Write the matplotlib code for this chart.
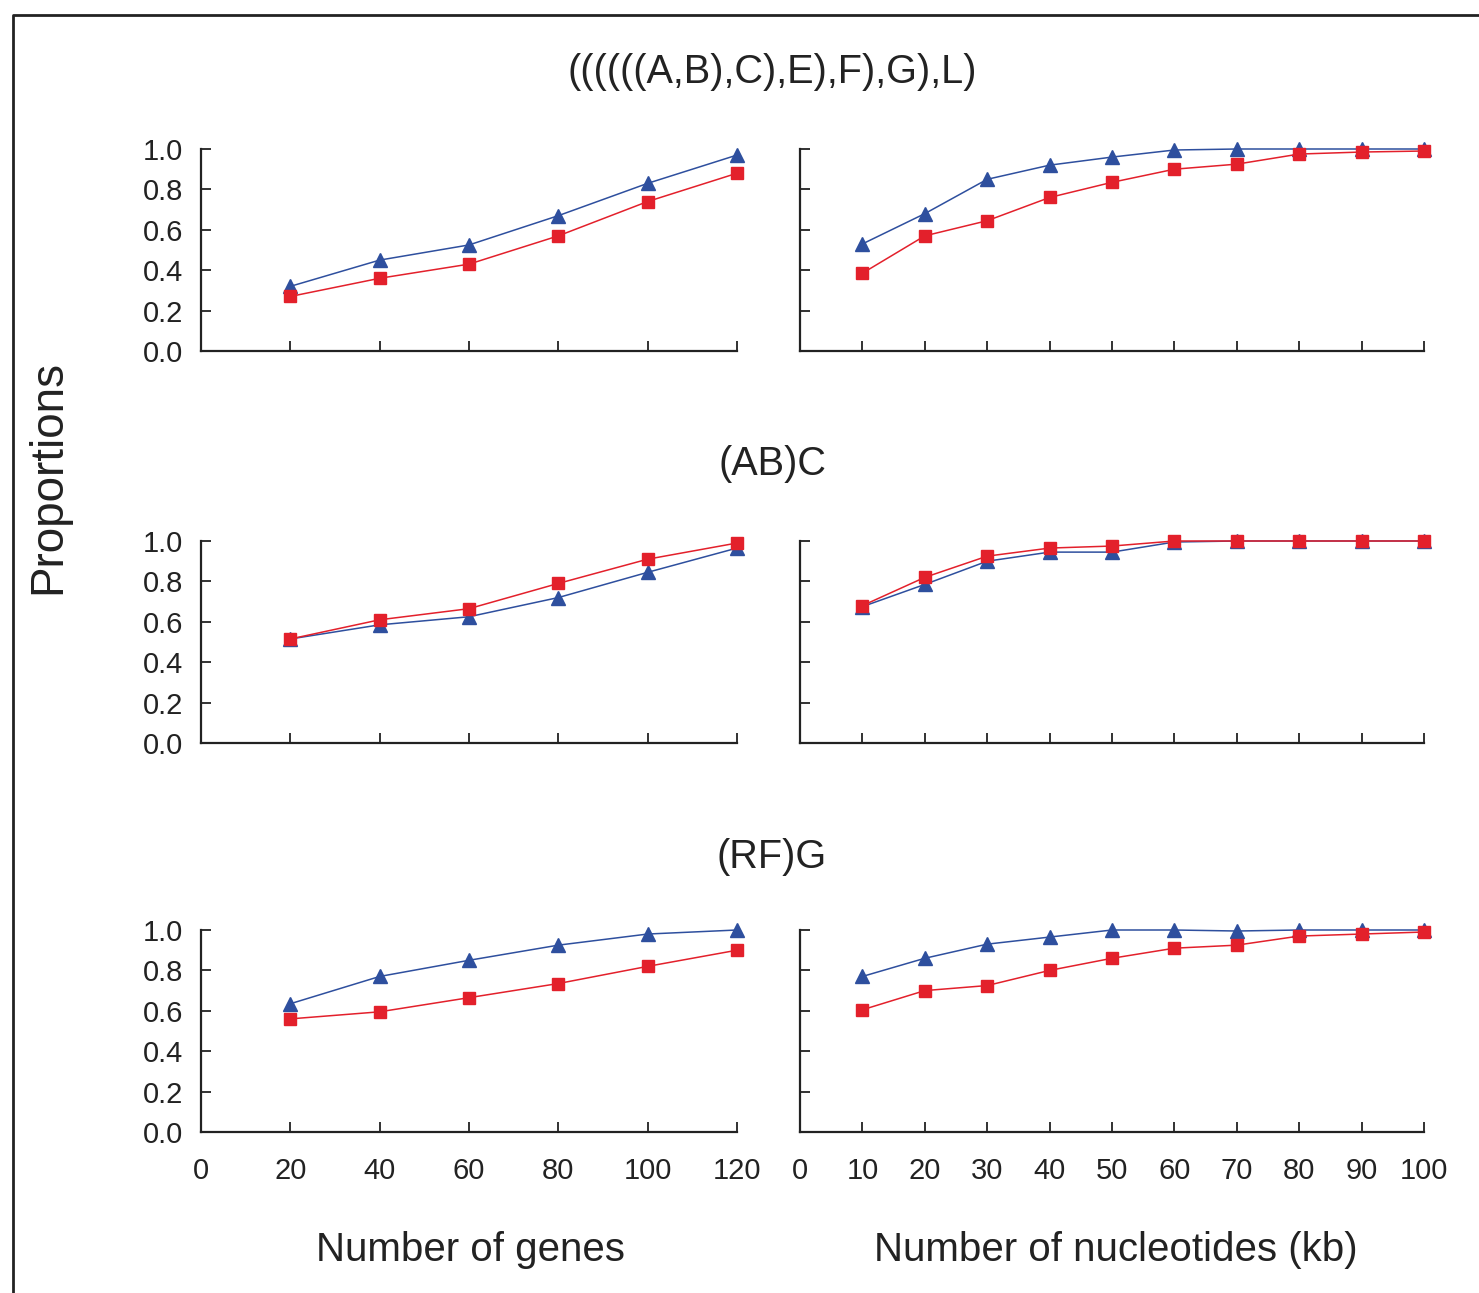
import matplotlib
matplotlib.use("Agg")
import matplotlib.pyplot as plt
from matplotlib.lines import Line2D

plt.rcParams["font.family"] = ["Liberation Sans", "DejaVu Sans"]

# x values
genes = [20, 40, 60, 80, 100, 120]
kb = [10, 20, 30, 40, 50, 60, 70, 80, 90, 100]

titles = ["((((((A,B),C),E),F),G),L)", "(AB)C", "(RF)G"]

# proportions: (blue triangles, red squares)
genes_blue = [
    [0.32, 0.45, 0.525, 0.67, 0.83, 0.97],
    [0.515, 0.585, 0.625, 0.72, 0.845, 0.965],
    [0.635, 0.77, 0.85, 0.925, 0.98, 1.0],
]
genes_red = [
    [0.27, 0.36, 0.43, 0.57, 0.74, 0.88],
    [0.515, 0.61, 0.665, 0.79, 0.91, 0.99],
    [0.56, 0.595, 0.665, 0.735, 0.82, 0.90],
]
kb_blue = [
    [0.53, 0.68, 0.85, 0.92, 0.96, 0.995, 1.0, 1.0, 1.0, 1.0],
    [0.675, 0.785, 0.90, 0.945, 0.945, 0.995, 1.0, 1.0, 1.0, 1.0],
    [0.77, 0.86, 0.93, 0.965, 1.0, 1.0, 0.995, 1.0, 1.0, 1.0],
]
kb_red = [
    [0.385, 0.57, 0.645, 0.76, 0.835, 0.90, 0.925, 0.975, 0.985, 0.99],
    [0.68, 0.82, 0.925, 0.965, 0.975, 1.0, 1.0, 1.0, 1.0, 1.0],
    [0.605, 0.70, 0.725, 0.80, 0.86, 0.91, 0.925, 0.97, 0.98, 0.99],
]

BLUE = "#2e4f9e"
RED = "#e3202b"
INK = "#222222"

W, H = 1479, 1293
fig = plt.figure(figsize=(W / 100, H / 100), dpi=100)

# axes boxes in pixels
left_x = (201, 737)
right_x = (800, 1424)
rows_y = [(351, 149), (743, 541), (1132, 930)]
title_y = [72, 464, 857]


def style_axis(ax, xmax, xticks, show_x, show_y):
    for s in ["top", "right"]:
        ax.spines[s].set_visible(False)
    for s in ["left", "bottom"]:
        ax.spines[s].set_linewidth(1.6)
        ax.spines[s].set_color(INK)
    ax.set_xlim(0, xmax)
    ax.set_ylim(0, 1.0)
    ax.set_xticks(xticks)
    ax.set_yticks([0, 0.2, 0.4, 0.6, 0.8, 1.0])
    ax.tick_params(direction="in", length=7, width=1.3, colors=INK,
                   labelsize=21)
    ax.tick_params(axis="y", pad=13)
    ax.tick_params(axis="x", pad=18)
    if show_y:
        ax.set_yticklabels(["0.0", "0.2", "0.4", "0.6", "0.8", "1.0"])
    else:
        ax.set_yticklabels([])
    if not show_x:
        ax.set_xticklabels([])


for r in range(3):
    y0, y1 = rows_y[r]
    bottom = 1 - y0 / H
    height = (y0 - y1) / H

    axl = fig.add_axes([left_x[0] / W, bottom, (left_x[1] - left_x[0]) / W, height])
    axl.plot(genes, genes_blue[r], color=BLUE, lw=1.1, marker="^", ms=10.5,
             clip_on=False)
    axl.plot(genes, genes_red[r], color=RED, lw=1.1, marker="s", ms=8.5,
             clip_on=False)
    style_axis(axl, 120, [0, 20, 40, 60, 80, 100, 120], r == 2, True)

    axr = fig.add_axes([right_x[0] / W, bottom, (right_x[1] - right_x[0]) / W, height])
    axr.plot(kb, kb_blue[r], color=BLUE, lw=1.1, marker="^", ms=10.5,
             clip_on=False)
    axr.plot(kb, kb_red[r], color=RED, lw=1.1, marker="s", ms=8.5,
             clip_on=False)
    style_axis(axr, 100, [0, 10, 20, 30, 40, 50, 60, 70, 80, 90, 100],
               r == 2, False)

    fig.text(772 / W, 1 - title_y[r] / H, titles[r], ha="center",
             va="center", fontsize=28.5, color=INK)

fig.text(48 / W, 1 - 477 / H, "Proportions", rotation=90, ha="center",
         va="center", fontsize=33, color=INK)
fig.text(471 / W, 1 - 1250 / H, "Number of genes", ha="center",
         va="center", fontsize=29, color=INK)
fig.text(1116 / W, 1 - 1250 / H, "Number of nucleotides (kb)", ha="center",
         va="center", fontsize=29, color=INK)

# outer frame (only top and left edges are inside the picture)
fx, fy = 13 / W, 1 - 15 / H
fig.add_artist(Line2D([fx, fx, 1.0], [0.0, fy, fy], transform=fig.transFigure,
                      color=INK, lw=2))

fig.savefig("out.png", dpi=100)
